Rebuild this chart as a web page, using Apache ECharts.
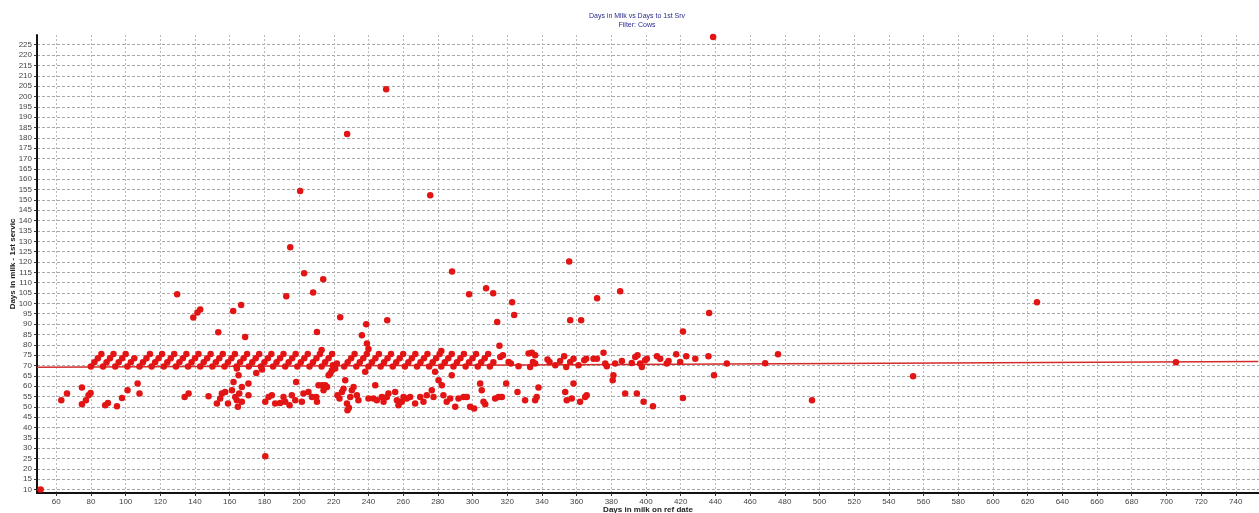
<!DOCTYPE html>
<html>
<head>
<meta charset="utf-8">
<script src="https://cdn.jsdelivr.net/npm/echarts@6/dist/echarts.min.js"></script>
<style>
html,body{margin:0;padding:0;background:#fff;}
#chart{width:1259px;height:513px;}
</style>
</head>
<body>
<div id="chart"></div>
<script>
const titleLines = ['Days in Milk vs Days to 1st Srv', 'Filter: Cows'];
const xName = 'Days in milk on ref date';
const yName = 'Days in milk - 1st servic';

const xTicks = [60,80,100,120,140,160,180,200,220,240,260,280,300,320,340,360,380,400,420,440,460,480,500,520,540,560,580,600,620,640,660,680,700,720,740];
const yTicks = [10,15,20,25,30,35,40,45,50,55,60,65,70,75,80,85,90,95,100,105,110,115,120,125,130,135,140,145,150,155,160,165,170,175,180,185,190,195,200,205,210,215,220,225];

// weekly diagonal band (days to 1st service ~69-76)
const bandPoints = [
 [80,69.5],[82,71.5],[84,73.5],[86,75.5],
 [87,69.5],[89,71.5],[91,73.5],[93,75.5],
 [94,69.5],[96,71.5],[98,73.5],[100,75.5],
 [101,69.5],[103,71.5],[105,73.5],
 [108,69.5],[110,71.5],[112,73.5],[114,75.5],
 [115,69.5],[117,71.5],[119,73.5],[121,75.5],
 [122,69.5],[124,71.5],[126,73.5],[128,75.5],
 [129,69.5],[131,71.5],[133,73.5],[135,75.5],
 [136,69.5],[138,71.5],[140,73.5],[142,75.5],
 [143,69.5],[145,71.5],[147,73.5],[149,75.5],
 [150,69.5],[152,71.5],[154,73.5],[156,75.5],
 [157,69.5],[159,71.5],[161,73.5],[163,75.5],
 [164,69.5],[166,71.5],[168,73.5],[170,75.5],
 [171,69.5],[173,71.5],[175,73.5],[177,75.5],
 [178,69.5],[180,71.5],[182,73.5],[184,75.5],
 [185,69.5],[187,71.5],[189,73.5],[191,75.5],
 [192,69.5],[194,71.5],[196,73.5],[198,75.5],
 [199,69.5],[201,71.5],[203,73.5],[205,75.5],
 [206,69.5],[208,71.5],[210,73.5],[212,75.5],[213,77.5],
 [213,69.5],[215,71.5],[217,73.5],[219,75.5],
 [226,69.5],[228,71.5],[230,73.5],[232,75.5],
 [233,69.5],[235,71.5],[237,73.5],[239,75.5],[240,78],
 [240,69.5],[242,71.5],[244,73.5],[246,75.5],
 [247,69.5],[249,71.5],[251,73.5],[253,75.5],
 [254,69.5],[256,71.5],[258,73.5],[260,75.5],
 [261,69.5],[263,71.5],[265,73.5],[267,75.5],
 [268,69.5],[270,71.5],[272,73.5],[274,75.5],
 [275,69.5],[277,71.5],[279,73.5],[281,75.5],[282,77],
 [282,69.5],[284,71.5],[286,73.5],[288,75.5],
 [289,69.5],[291,71.5],[293,73.5],[295,75.5],
 [296,69.5],[298,71.5],[300,73.5],[302,75.5],
 [303,69.5],[305,71.5],[307,73.5],[309,75.5],
 [310,69.5],[312,71.5],
 [316,74.1],[317.5,74.9],[320.8,71.7],[322.1,70.9],[326.5,69.6],[332.3,75.8],[334.2,76.1],[336.1,74.9],
 [334.8,71.7],[333.2,69.3],[336.1,70.9],[343.2,72.9],[344.4,71.7],[347.7,70.1],[350.5,72.2],[352.8,74.5],
 [354,69.3],[356.3,71.7],[358.2,73.3],[361.1,70.1],[364.4,72.5],[365.5,73.3],[369.7,73.3],[371.7,73.3],
 [375.5,76.1],[376.5,70.9],[377.4,69.6],[382.2,70.9],[386.1,72.2],[391.8,71.2],[393.8,74.1],[395.1,74.9],
 [396.6,70.9],[397.6,69.3],[399.5,72.5],[400.5,73.3],[406.3,74.5],[408.2,73.3],[412,70.9],[413,72.2],
 [417.4,75.4],[419.7,71.7],[423.2,74.5],[428.4,73.3],[436,74.5],[446.6,70.9],[468.7,71.1],[476.1,75.4],[705.5,71.6]
];

const lowerPoints = [
 [51,10],[62.9,53.2],[66.2,56.4],[74.8,59.3],[74.8,51.2],[77.1,53.2],[78.6,55.6],[79.8,56.7],[88.2,50.8],[89.8,51.9],
 [95,50.3],[97.9,54.3],[101.1,58],[106.9,61.3],[108,56.4],[134,54.8],[136.3,56.4],[147.8,55.1],[152.6,51.6],[154.5,54],
 [155.5,56.4],[157.4,57.2],[159,51.6],[161.3,58],[162.2,62],[163.2,54.8],[164.1,53.2],[164.7,50],[165.1,65.3],[165.5,56.4],
 [167,52.4],[167,59.6],[170.8,55.6],[170.8,61.3],[164.1,68.5],[175.3,66.4],[178.6,68],[180.5,52.4],[182.4,54.8],[184.3,55.6],
 [186.2,51.6],[189.1,51.9],[191,54.8],[192,52.4],[194.5,50.8],[195.8,55.6],[197.8,53.2],[198.3,62],[201.6,52.4],[202.5,56.4],
 [205.4,57.2],[207.4,54.8],[209.9,54.8],[210.3,52.4],[211.2,60.4],[213.2,60.4],[214.1,58],[215.1,60.4],[216.1,59.6],[217,65.3],
 [218,66.1],[218.9,67.7],[219.5,70.1],[220.8,68.5],[221.8,70.9],[222.1,55.6],[223.3,54],[224.7,57.2],[225.6,58.8],[226.6,62.8],
 [227.6,51.6],[227.9,48.3],[228.7,49.6],[229.5,54.8],[230.4,58],[231.4,59.6],[233.3,55.6],[234.2,53.2],[238.1,66.9],[240,54],
 [242.9,54],[243.9,60.4],[244.8,53.2],[247.7,54.8],[248.7,52.4],[250.6,54.8],[251.5,56.4],[255.4,57.2],[256.4,53.2],[257.3,50.8],
 [259.2,52.4],[260.2,54.8],[262.1,54],[264,54.8],[266.9,51.6],[269.8,54.8],[271.7,52.4],[273.6,55.6],[276.5,58],[277.5,54.8],
 [278.4,66.9],[280.4,62.8],[282.3,60.4],[283.2,55.6],[285.1,52.4],[287.1,54],[288,65.3],[290,50],[291.9,54],[294.8,54.8],
 [296.7,54.8],[298.6,50],[300.9,49.2],[304.4,61.3],[305.3,58],[306.3,52.4],[307.3,51.2],[313,54],[315,54.8],[316.9,54.8],
 [319.4,61.3],[325.9,57.2],[330.3,53.2],[336.1,53.2],[337,54.8],[338,59.3],[353.4,57.2],[354.3,53.2],[357.2,54],[358.2,61.3],
 [362,52.4],[364.9,54.8],[365.8,55.6],[380.8,62.8],[381.2,65.3],[388,56.4],[394.7,56.4],[398.6,52.4],[404,50.3],[421.3,54.3],
 [439.2,65.3],[495.7,53.2],[554,64.8],[180.5,26.1]
];

const upperPoints = [
 [129.7,104.4],[139,93.2],[141.4,95.6],[143,97.1],[153.4,86.1],[162,96.3],[166.6,99.2],[168.9,83.7],[192.6,103.4],[194.9,127.1],
 [200.6,154.3],[202.9,114.5],[208.1,105.3],[210.3,86.2],[213.9,111.6],[223.7,93.3],[227.7,181.8],[236.2,84.6],[239.1,80.6],[238.7,89.9],
 [250.2,203.5],[250.8,91.9],[275.6,152.3],[288.2,115.4],[298,104.4],[307.8,107.3],[311.9,104.9],[314.2,91],[315.5,79.5],[322.8,100.6],
 [324,94.4],[355.7,120.2],[356.3,91.9],[362.6,91.9],[371.8,102.5],[385.1,105.9],[421.3,86.4],[436.4,95.3],[438.7,228.7],[625.4,100.6]
];

const fitLine = [[49,69.1],[753,71.9]];

const RED = '#e31414';
const chart = echarts.init(document.getElementById('chart'), null, {renderer:'canvas'});
const FONT = 'Liberation Sans, Arial, sans-serif';

chart.setOption({
  animation: false,
  backgroundColor: '#ffffff',
  textStyle: {fontFamily: FONT},
  grid: {left: 37, right: 0, top: 35, bottom: 20, containLabel: false, outerBoundsMode: 'none'},
  graphic: [
    {type:'text', x: 637, y: 16, style:{text: titleLines[0], align:'center', verticalAlign:'middle', fontSize: 7, fontFamily: FONT, fill:'#2b2b8f'}},
    {type:'text', x: 637, y: 25, style:{text: titleLines[1], align:'center', verticalAlign:'middle', fontSize: 7, fontFamily: FONT, fill:'#2b2b8f'}}
  ],
  xAxis: {
    type: 'value', min: 48.9, max: 753.4,
    name: xName, nameLocation: 'middle', nameGap: 13, nameMoveOverlap: false,
    nameTextStyle: {fontSize: 8, fontWeight: 'bold', color: '#222', fontFamily: FONT},
    axisLine: {show: true, onZero: false, lineStyle: {color: '#111', width: 2}},
    axisTick: {show: true, customValues: xTicks, length: 3, lineStyle: {color: '#333'}},
    axisLabel: {customValues: xTicks, fontSize: 8, color: '#444', margin: 5, fontFamily: FONT},
    splitLine: {show: true, lineStyle: {color: '#b8b8b8', type: [2, 2], width: 1}}
  },
  yAxis: {
    type: 'value', min: 8.36, max: 229.7,
    name: yName, nameLocation: 'middle', nameGap: 20, nameRotate: 90, nameMoveOverlap: false,
    nameTextStyle: {fontSize: 8, fontWeight: 'bold', color: '#222', fontFamily: FONT},
    axisLine: {show: true, onZero: false, lineStyle: {color: '#111', width: 2}},
    axisTick: {show: true, customValues: yTicks, length: 3, lineStyle: {color: '#333'}},
    axisLabel: {customValues: yTicks, fontSize: 8, color: '#444', margin: 5, fontFamily: FONT},
    splitLine: {show: true, lineStyle: {color: '#a8a8a8', type: [3, 2], width: 1}}
  },
  series: [
    {type:'line', data: fitLine, symbol:'none', lineStyle:{color:'#d42a2a', width:1.5}, z: 2, silent: true},
    {type:'scatter', data: bandPoints, symbol:'circle', symbolSize: 6.5, itemStyle:{color: RED, opacity: 1}, z: 3},
    {type:'scatter', data: lowerPoints, symbol:'circle', symbolSize: 6.5, itemStyle:{color: RED, opacity: 1}, z: 3},
    {type:'scatter', data: upperPoints, symbol:'circle', symbolSize: 6.5, itemStyle:{color: RED, opacity: 1}, z: 3}
  ]
});
</script>
</body>
</html>
